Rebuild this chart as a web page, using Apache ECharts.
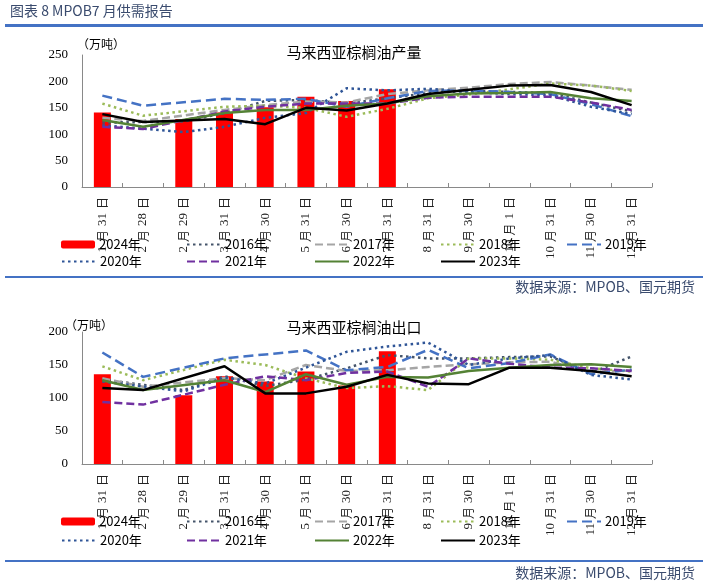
<!DOCTYPE html>
<html>
<head>
<meta charset="utf-8">
<script src="https://cdn.jsdelivr.net/npm/echarts@6/dist/echarts.min.js"></script>
<style>
html,body{margin:0;padding:0;background:#fff;}
#c{width:708px;height:587px;}
</style>
</head>
<body>
<div id="c"></div>
<script>
// ---- data ----
const categories = ['1月31日','2月28日','2月29日','3月31日','4月30日','5月31日','6月30日','7月31日','8月31日','9月30日','10月1日','10月31日','11月30日','12月31日'];
const seriesNames = ['2024年','2016年','2017年','2018年','2019年','2020年','2021年','2022年','2023年'];
const prodTicks = [0, 50, 100, 150, 200, 250];
const expTicks = [0, 50, 100, 150, 200];

// 马来西亚棕榈油产量 (万吨)
const prod2024 = [141, null, 129, 141, 151, 171, 163, 185, null, null, null, null, null, null];
const prod2016 = [122, null, 124, 140, 163, 165, 158, 168, 178, 182, 180, 178, 160, 143];
const prod2017 = [131, 125, null, 146, 155, 162, 160, 176, 183, 188, 195, 199, 192, 184];
const prod2018 = [158, 135, null, 152, 154, 150, 133, 148, 168, 175, 185, 196, 192, 182];
const prod2019 = [173, 154, null, 167, 165, 167, 152, 168, 182, 183, 180, 176, 157, 134];
const prod2020 = [117, null, 104, 114, 131, 140, 187, 183, 186, 180, 176, 174, 152, 138];
const prod2021 = [114, 110, null, 143, 152, 158, 158, 158, 169, 171, 171, 171, 160, 146];
const prod2022 = [127, 114, null, 140, 146, 146, 154, 158, 172, 177, 178, 180, 168, 163];
const prod2023 = [138, 123, null, 129, 119, 150, 145, 158, 176, 184, 192, 193, 180, 155];

// 马来西亚棕榈油出口 (万吨)
const exp2024 = [136, null, 104, 133, 125, 140, 119, 171, null, null, null, null, null, null];
const exp2016 = [128, null, 112, 133, 118, 128, 145, 165, 160, 160, 162, 163, 138, 163];
const exp2017 = [130, 117, null, 130, 127, 150, 141, 142, 147, 151, 154, 155, 139, 142];
const exp2018 = [148, 127, null, 158, 150, 130, 115, 118, 112, 160, 160, 158, 145, 140];
const exp2019 = [169, 132, null, 160, 166, 172, 142, 147, 173, 145, 153, 166, 136, 143];
const exp2020 = [125, null, 110, 131, 122, 146, 170, 178, 184, 150, 160, 165, 135, 128];
const exp2021 = [94, 90, null, 120, 133, 127, 138, 140, 117, 160, 152, 146, 145, 141];
const exp2022 = [127, 112, null, 127, 109, 136, 120, 132, 131, 141, 146, 150, 151, 147];
const exp2023 = [115, 112, null, 148, 107, 107, 117, 135, 122, 121, 146, 146, 141, 133];

// ---- styles ----
const colors = ['#FF0000','#44546A','#A5A5A5','#9BBB59','#4472C4','#2F5597','#7030A0','#548235','#000000'];
const dashes = [null, [2.5,3.5], [8,4], [2.5,3.5], [10,5], [2.5,3.5], [8,4], 'solid', 'solid'];
const prodData = [prod2024, prod2016, prod2017, prod2018, prod2019, prod2020, prod2021, prod2022, prod2023];
const expData = [exp2024, exp2016, exp2017, exp2018, exp2019, exp2020, exp2021, exp2022, exp2023];

const serif = '"Liberation Serif", "Noto Sans CJK SC", serif';
const cjk = '"Noto Sans CJK SC", sans-serif';
const axisColor = '#898989';

function makeSeries(dataList, idx) {
  return dataList.map((d, i) => {
    if (i === 0) {
      return { name: seriesNames[i], type: 'bar', xAxisIndex: idx, yAxisIndex: idx, data: d, barWidth: 17,
        itemStyle: { color: colors[i] }, z: 1 };
    }
    return { name: seriesNames[i], type: 'line', xAxisIndex: idx, yAxisIndex: idx, data: d,
      symbol: 'none', showSymbol: false, connectNulls: true, z: 3,
      lineStyle: { color: colors[i], width: 2.5, type: dashes[i] },
      itemStyle: { color: colors[i] } };
  });
}

const legendLeft = [61, 186, 314, 440, 566, 61, 186, 314, 440];
function makeLegends(row1, row2) {
  return seriesNames.map((n, i) => {
    const lg = {
      data: [n], left: legendLeft[i], top: (i < 5 ? row1 : row2) - 7,
      itemWidth: 34, itemHeight: 8, padding: 0, itemGap: 0,
      textStyle: { fontFamily: '"Liberation Sans Narrow", "Noto Sans CJK SC", sans-serif', fontSize: 13, color: '#000', padding: [0,0,0,-1] }
    };
    if (i > 0) lg.itemStyle = { opacity: 0 };
    return lg;
  });
}

function labelFmt(v) {
  const tokens = v.match(/\d+|\D/g) || [];
  return tokens.map(t => (/\d/.test(t) ? '{d|' + t + '}' : '{c|' + t + '}')).join('');
}

function xAx(grid) {
  return { type: 'category', gridIndex: grid, data: categories, boundaryGap: true,
    axisLine: { lineStyle: { color: axisColor, width: 1 } },
    axisTick: { show: true, inside: true, length: 4, lineStyle: { color: axisColor } },
    axisLabel: { interval: 0, rotate: 90, margin: 8, fontSize: 12, fontFamily: serif, color: '#222',
      formatter: labelFmt,
      rich: {
        d: { fontFamily: serif, fontSize: 13, color: '#222', padding: [0, 2, 0, 2] },
        c: { fontFamily: cjk, fontSize: 12, color: '#222', padding: [0, 2, 0, 2] }
      } } };
}
function yAx(grid, ticks) {
  return { type: 'value', gridIndex: grid, min: ticks[0], max: ticks[ticks.length-1], interval: ticks[1]-ticks[0],
    splitLine: { show: false },
    axisLine: { show: true, lineStyle: { color: axisColor } },
    axisTick: { show: false },
    axisLabel: { margin: 14, fontSize: 13, fontFamily: serif, color: '#000' } };
}

const chart = echarts.init(document.getElementById('c'), null, { renderer: 'canvas' });
chart.setOption({
  animation: false,
  backgroundColor: '#fff',
  title: [
    { text: '马来西亚棕榈油产量', left: 'center', top: 40, textStyle: { fontFamily: cjk, fontSize: 15, fontWeight: 'normal', color: '#000' } },
    { text: '马来西亚棕榈油出口', left: 'center', top: 315, textStyle: { fontFamily: cjk, fontSize: 15, fontWeight: 'normal', color: '#000' } }
  ],
  grid: [
    { left: 82, width: 570, top: 55, height: 132 },
    { left: 82, width: 570, top: 332, height: 132 }
  ],
  xAxis: [xAx(0), xAx(1)],
  yAxis: [yAx(0, prodTicks), yAx(1, expTicks)],
  legend: makeLegends(245, 262).concat(makeLegends(522, 541)),
  series: makeSeries(prodData, 0).concat(makeSeries(expData, 1)),
  graphic: [
    { type: 'text', left: 10, top: 4, style: { text: '图表 8 MPOB7 月供需报告', fontFamily: cjk, fontSize: 14, fill: '#3A4B6E' } },
    { type: 'rect', shape: { x: 5, y: 24, width: 698, height: 3 }, style: { fill: '#4472C4' } },
    { type: 'text', left: 77, top: 38, style: { text: '（万吨）', fontFamily: cjk, fontSize: 12, fill: '#000' } },
    { type: 'rect', shape: { x: 5, y: 276, width: 698, height: 2 }, style: { fill: '#4472C4' } },
    { type: 'text', right: 13, top: 280, style: { text: '数据来源：MPOB、国元期货', fontFamily: cjk, fontSize: 14, fill: '#3A4B6E' } },
    { type: 'text', left: 65, top: 319, style: { text: '（万吨）', fontFamily: cjk, fontSize: 12, fill: '#000' } },
    { type: 'rect', shape: { x: 5, y: 560, width: 698, height: 2 }, style: { fill: '#4472C4' } },
    { type: 'text', right: 13, top: 566, style: { text: '数据来源：MPOB、国元期货', fontFamily: cjk, fontSize: 14, fill: '#3A4B6E' } }
  ]
});
</script>
</body>
</html>
